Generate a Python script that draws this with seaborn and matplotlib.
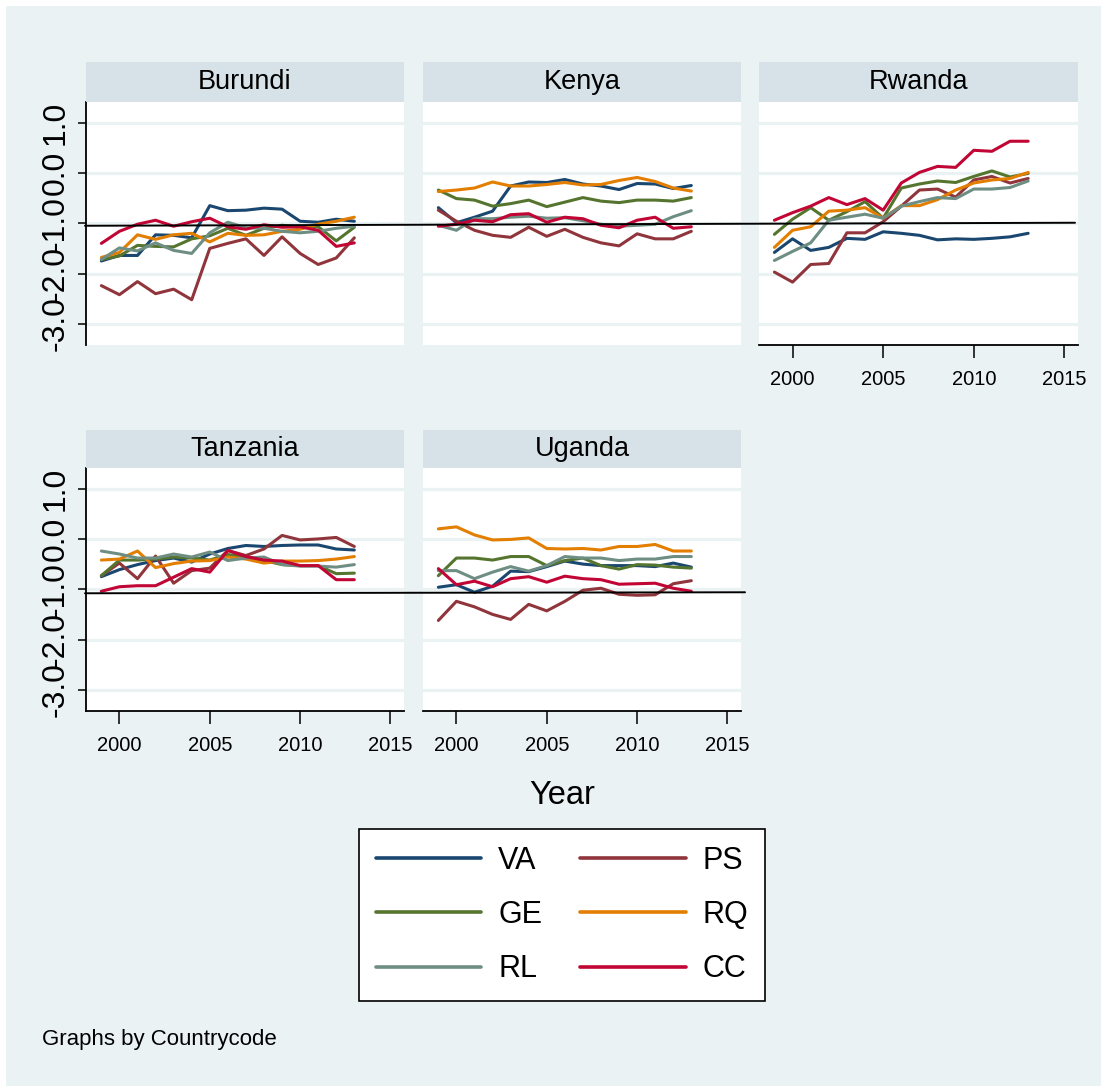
import numpy as np
import pandas as pd
import matplotlib
matplotlib.use("Agg")
import matplotlib.pyplot as plt
import seaborn as sns
from matplotlib.lines import Line2D
from matplotlib.patches import Rectangle

# ---------------- data ----------------
years = list(range(1999, 2014))
indicators = ["VA", "PS", "GE", "RQ", "RL", "CC"]
countries = ["Burundi", "Kenya", "Rwanda", "Tanzania", "Uganda"]
x_ticks = [2000, 2005, 2010, 2015]
y_ticks = [-3, -2, -1, 0, 1]
y_tick_labels = ["-3.0", "-2.0", "-1.0", "0.0", "1.0"]

burundi = {
    "VA": [-1.75, -1.64, -1.64, -1.23, -1.24, -1.29, -0.65, -0.75, -0.74, -0.70, -0.72, -0.96, -0.98, -0.92, -0.96],
    "PS": [-2.24, -2.42, -2.16, -2.40, -2.31, -2.52, -1.50, -1.40, -1.31, -1.64, -1.27, -1.60, -1.82, -1.69, -1.29],
    "GE": [-1.72, -1.65, -1.44, -1.46, -1.47, -1.31, -1.25, -1.10, -1.24, -1.10, -1.04, -1.08, -1.07, -1.35, -1.08],
    "RQ": [-1.68, -1.58, -1.23, -1.32, -1.23, -1.20, -1.37, -1.20, -1.24, -1.23, -1.16, -1.12, -1.02, -0.96, -0.88],
    "RL": [-1.72, -1.49, -1.55, -1.39, -1.54, -1.60, -1.19, -0.98, -1.09, -1.10, -1.16, -1.19, -1.16, -1.10, -1.06],
    "CC": [-1.40, -1.16, -1.02, -0.94, -1.06, -0.97, -0.90, -1.07, -1.12, -1.03, -1.08, -1.07, -1.14, -1.46, -1.39],
}
kenya = {
    "VA": [-0.69, -0.99, -0.88, -0.76, -0.26, -0.18, -0.19, -0.13, -0.22, -0.26, -0.33, -0.21, -0.22, -0.31, -0.25],
    "PS": [-0.74, -0.96, -1.14, -1.24, -1.28, -1.08, -1.26, -1.12, -1.28, -1.39, -1.45, -1.21, -1.31, -1.31, -1.16],
    "GE": [-0.34, -0.51, -0.54, -0.66, -0.61, -0.54, -0.67, -0.58, -0.49, -0.56, -0.59, -0.54, -0.54, -0.56, -0.49],
    "RQ": [-0.37, -0.34, -0.30, -0.18, -0.26, -0.26, -0.23, -0.19, -0.24, -0.23, -0.15, -0.09, -0.17, -0.30, -0.36],
    "RL": [-1.04, -1.14, -0.91, -0.91, -0.88, -0.86, -0.90, -0.89, -0.95, -1.02, -1.06, -1.04, -1.02, -0.87, -0.75],
    "CC": [-1.06, -1.02, -0.94, -0.97, -0.83, -0.81, -0.98, -0.88, -0.91, -1.04, -1.09, -0.94, -0.88, -1.10, -1.07],
}
rwanda = {
    "VA": [-1.58, -1.31, -1.54, -1.48, -1.30, -1.32, -1.17, -1.20, -1.24, -1.33, -1.31, -1.32, -1.30, -1.27, -1.20],
    "PS": [-1.97, -2.17, -1.82, -1.80, -1.19, -1.19, -0.97, -0.66, -0.34, -0.32, -0.48, -0.14, -0.07, -0.20, -0.11],
    "GE": [-1.22, -0.92, -0.69, -0.94, -0.77, -0.57, -0.90, -0.30, -0.22, -0.16, -0.19, -0.07, 0.04, -0.08, -0.01],
    "RQ": [-1.48, -1.14, -1.07, -0.76, -0.74, -0.69, -0.90, -0.65, -0.65, -0.53, -0.34, -0.20, -0.14, -0.11, 0.01],
    "RL": [-1.74, -1.56, -1.39, -0.94, -0.88, -0.82, -0.90, -0.66, -0.57, -0.49, -0.51, -0.32, -0.32, -0.29, -0.16],
    "CC": [-0.94, -0.79, -0.66, -0.49, -0.63, -0.51, -0.74, -0.20, 0.01, 0.13, 0.11, 0.45, 0.43, 0.63, 0.63],
}
tanzania = {
    "VA": [-0.75, -0.61, -0.51, -0.43, -0.38, -0.46, -0.30, -0.19, -0.13, -0.15, -0.13, -0.12, -0.12, -0.20, -0.22],
    "PS": [-0.73, -0.48, -0.79, -0.34, -0.88, -0.63, -0.58, -0.23, -0.33, -0.20, 0.07, -0.02, 0.00, 0.03, -0.15],
    "GE": [-0.73, -0.42, -0.42, -0.40, -0.36, -0.38, -0.42, -0.31, -0.36, -0.43, -0.51, -0.53, -0.53, -0.69, -0.68],
    "RQ": [-0.42, -0.40, -0.24, -0.57, -0.49, -0.44, -0.43, -0.36, -0.40, -0.48, -0.44, -0.44, -0.43, -0.40, -0.35],
    "RL": [-0.24, -0.30, -0.38, -0.38, -0.30, -0.36, -0.26, -0.43, -0.38, -0.36, -0.51, -0.54, -0.54, -0.56, -0.51],
    "CC": [-1.04, -0.95, -0.93, -0.93, -0.76, -0.59, -0.66, -0.23, -0.35, -0.42, -0.44, -0.53, -0.53, -0.81, -0.81],
}
uganda = {
    "VA": [-0.96, -0.91, -1.06, -0.94, -0.64, -0.65, -0.55, -0.44, -0.50, -0.53, -0.53, -0.53, -0.55, -0.48, -0.56],
    "PS": [-1.62, -1.24, -1.35, -1.50, -1.60, -1.30, -1.43, -1.24, -1.02, -0.98, -1.10, -1.12, -1.11, -0.89, -0.83],
    "GE": [-0.73, -0.38, -0.38, -0.42, -0.35, -0.35, -0.53, -0.43, -0.38, -0.53, -0.60, -0.51, -0.52, -0.56, -0.58],
    "RQ": [0.20, 0.24, 0.08, -0.02, -0.01, 0.02, -0.19, -0.20, -0.19, -0.22, -0.15, -0.15, -0.11, -0.24, -0.24],
    "RL": [-0.63, -0.63, -0.79, -0.66, -0.55, -0.64, -0.53, -0.35, -0.38, -0.38, -0.43, -0.40, -0.40, -0.35, -0.35],
    "CC": [-0.59, -0.91, -0.84, -0.95, -0.79, -0.75, -0.86, -0.74, -0.79, -0.81, -0.90, -0.89, -0.88, -0.98, -1.04],
}
country_data = {"Burundi": burundi, "Kenya": kenya, "Rwanda": rwanda,
                "Tanzania": tanzania, "Uganda": uganda}

rows = []
for cn in countries:
    for ind in indicators:
        for yr, v in zip(years, country_data[cn][ind]):
            rows.append((cn, ind, yr, v))
df = pd.DataFrame(rows, columns=["Countrycode", "Indicator", "Year", "Value"])

# ---------------- style ----------------
sns.set_theme(style="white")
FONT = ["Liberation Sans", "DejaVu Sans"]
plt.rcParams["font.family"] = FONT
plt.rcParams["text.color"] = "black"
plt.rcParams["xtick.color"] = "black"
plt.rcParams["ytick.color"] = "black"
plt.rcParams["axes.labelcolor"] = "black"

palette = {"VA": "#1A476F", "PS": "#90353B", "GE": "#55752F",
           "RQ": "#E37E00", "RL": "#6E8E84", "CC": "#C10534"}
BG = "#EAF2F3"
STRIP = "#D6E2E7"

W, H = 1107, 1092
fig = plt.figure(figsize=(W / 100, H / 100), dpi=100, facecolor="white")
m = 6
fig.add_artist(Rectangle((m / W, m / H), 1 - 2 * m / W, 1 - 2 * m / H,
                         transform=fig.transFigure, fc=BG, ec="none", zorder=-10))

cols_x = [(86, 404), (423, 741), (759, 1078)]
rows_y = [(102, 345), (468, 711)]
strips_y = [(62, 102), (430, 468)]
positions = {"Burundi": (0, 0), "Kenya": (0, 1), "Rwanda": (0, 2),
             "Tanzania": (1, 0), "Uganda": (1, 1)}
has_xaxis = {"Burundi": False, "Kenya": False, "Rwanda": True,
             "Tanzania": True, "Uganda": True}

XLIM = (1998.15, 2015.75)
YLIM = (-3.42, 1.41)

axes = {}
for cn in countries:
    r, c = positions[cn]
    x0, x1 = cols_x[c]
    y0, y1 = rows_y[r]
    ax = fig.add_axes([x0 / W, 1 - y1 / H, (x1 - x0) / W, (y1 - y0) / H])
    ax.set_facecolor("white")
    sub = df[df["Countrycode"] == cn]
    sns.lineplot(data=sub, x="Year", y="Value", hue="Indicator",
                 hue_order=indicators, palette=palette, linewidth=2.2,
                 legend=False, ax=ax)
    ax.set_xlim(*XLIM)
    ax.set_ylim(*YLIM)
    ax.set_xlabel("")
    ax.set_ylabel("")
    ax.set_yticks(y_ticks)
    ax.yaxis.grid(True, color=BG, linewidth=2.3)
    ax.xaxis.grid(False)
    ax.set_axisbelow(True)
    for s in ax.spines.values():
        s.set_visible(False)
    if c == 0:
        ax.spines["left"].set_visible(True)
        ax.spines["left"].set_color("black")
        ax.spines["left"].set_linewidth(1.3)
        ax.set_yticklabels(y_tick_labels, rotation=90, va="center", fontsize=23)
        ax.tick_params(axis="y", left=True, length=6, width=1.1, color="black",
                       labelcolor="black", pad=5)
    else:
        ax.tick_params(axis="y", left=False, labelleft=False)
    if has_xaxis[cn]:
        ax.spines["bottom"].set_visible(True)
        ax.spines["bottom"].set_color("black")
        ax.spines["bottom"].set_linewidth(1.3)
        ax.set_xticks(x_ticks)
        ax.set_xticklabels([str(t) for t in x_ticks], fontsize=14.5)
        ax.tick_params(axis="x", bottom=True, length=9, width=1.1, color="black",
                       labelcolor="black", pad=9)
    else:
        ax.set_xticks(x_ticks)
        ax.tick_params(axis="x", bottom=False, labelbottom=False)
    axes[cn] = ax

    # strip title
    sy0, sy1 = strips_y[r]
    fig.add_artist(Rectangle((x0 / W, 1 - sy1 / H), (x1 - x0) / W, (sy1 - sy0) / H,
                             transform=fig.transFigure, fc=STRIP, ec="none", zorder=1))
    fig.text((x0 + x1) / 2 / W, 1 - (sy0 + sy1) / 2 / H, cn, ha="center", va="center",
             fontsize=19.5, color="black")

# hand-drawn black reference lines spanning the rows
def to_fig(ax, x, y):
    d = ax.transData.transform((x, y))
    return fig.transFigure.inverted().transform(d)

yl = to_fig(axes["Burundi"], 2000, -1.05)[1]
yr = to_fig(axes["Burundi"], 2000, -0.99)[1]
fig.add_artist(Line2D([85 / W, 1075 / W], [yl, yr], color="black", lw=1.4,
                      transform=fig.transFigure, zorder=5))
yl = to_fig(axes["Tanzania"], 2000, -1.08)[1]
yr = to_fig(axes["Tanzania"], 2000, -1.06)[1]
fig.add_artist(Line2D([85 / W, 745 / W], [yl, yr], color="black", lw=1.4,
                      transform=fig.transFigure, zorder=5))

# axis title
fig.text(562 / W, 1 - 795 / H, "Year", ha="center", va="center", fontsize=23.5,
         color="black")

# legend
order = ["VA", "GE", "RL", "PS", "RQ", "CC"]
handles = [Line2D([], [], color=palette[k], lw=2.6) for k in order]
leg = fig.legend(handles, order, ncol=2, loc="center",
                 bbox_to_anchor=(562 / W, 1 - 915 / H), frameon=True, fancybox=False,
                 edgecolor="black", facecolor="white", framealpha=1, fontsize=22,
                 handlelength=3.45, handletextpad=0.55, columnspacing=1.25,
                 labelspacing=0.8, borderpad=0.55)
leg.get_frame().set_linewidth(1.2)
for t in leg.get_texts():
    t.set_color("black")

# note
fig.text(42 / W, 1 - 1040 / H, "Graphs by Countrycode", ha="left", va="center",
         fontsize=16, color="black")

fig.savefig("out.png", dpi=100, facecolor="white")
